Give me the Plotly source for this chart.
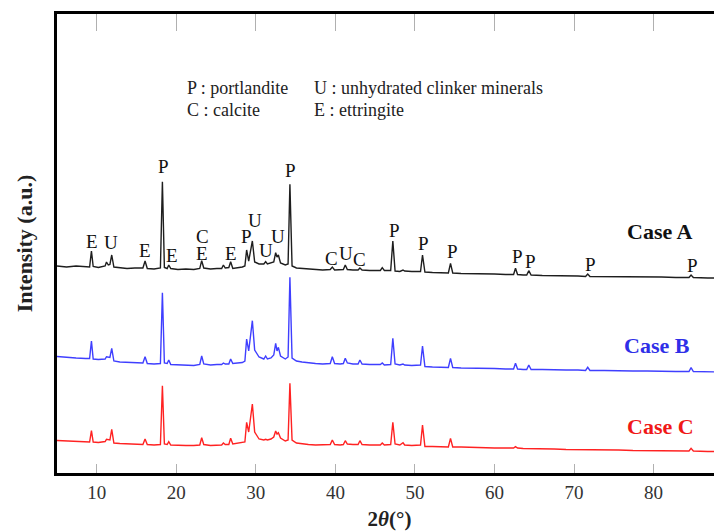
import plotly.graph_objects as go

# ---------------- data (2θ in degrees, intensity in a.u.) ----------------
peak_2theta = [9.33, 11.22, 11.88, 16.07, 18.25, 19.05, 23.19, 25.92, 26.83, 28.84,
               29.56, 31.23, 32.49, 32.83, 34.28, 39.61, 41.24, 43.08, 45.89, 47.22,
               48.5, 50.95, 54.47, 62.64, 64.31, 71.72, 84.71]
peak_a = [222, 211, 218, 212, 291.3, 208, 212.3, 208, 211.3, 223,
          232, 211.3, 220.3, 218, 288.7, 206, 208, 205, 205.3, 232,
          203, 218, 209.7, 204.7, 202.3, 199, 198]
peak_b = [132, 116.3, 124.7, 116.3, 180.3, 113, 117, 110, 114, 134,
          152.3, 117, 129.7, 125.7, 195.7, 116.3, 114.7, 113, 110, 134.7,
          109, 127, 114.7, 109.7, 108, 105.7, 105.3]
peak_c = [42.3, 33.7, 43.7, 34, 87.3, 31.3, 35.3, 30, 34.7, 50.7,
          69, 33.7, 42, 40.3, 89.7, 33, 32.3, 32.3, 30, 50.7,
          30.3, 48, 34.7, 26.3, 24.7, 23.7, 24.7]

base_2theta = [5.0, 6.2, 7.4, 8.6, 9.1, 9.55, 10.2, 10.8, 11.05, 11.45,
               11.65, 12.15, 12.9, 13.8, 14.8, 15.8, 16.35, 17.2, 18.0, 18.5,
               18.85, 19.3, 20.2, 21.2, 22.2, 22.95, 23.45, 24.3, 25.1, 25.7,
               26.15, 26.6, 27.1, 27.7, 28.3, 28.62, 29.1, 29.85, 30.4, 31.0,
               31.45, 31.9, 32.25, 32.66, 33.1, 33.7, 34.05, 34.55, 35.1, 35.8,
               36.6, 37.5, 38.4, 39.35, 39.9, 40.6, 41.0, 41.5, 42.2, 42.85,
               43.35, 44.3, 45.2, 45.65, 46.15, 46.95, 47.5, 48.1, 48.7, 49.6,
               50.7, 51.25, 52.2, 53.2, 54.2, 54.75, 55.8, 57.2, 58.6, 60.0,
               61.4, 62.4, 62.9, 63.6, 64.05, 64.6, 66.0, 67.5, 69.0, 70.5,
               71.45, 72.0, 73.8, 75.6, 77.4, 79.2, 81.0, 82.8, 84.45, 85.0,
               86.8, 88.6]
base_a = [207, 206, 207, 206, 206, 206.5, 205.5, 206.5, 207, 208,
          208.5, 206, 205, 204.5, 205, 205, 204.5, 204, 205, 205.5,
          204.5, 204.5, 203.5, 204, 203.5, 204.5, 205, 204, 204.5, 204.5,
          205, 205.5, 204.5, 205, 206, 207, 212, 211, 209, 209,
          209, 210, 211, 216, 210, 208, 209, 207, 205, 204.5,
          204, 203.5, 203, 203.5, 203, 203, 203.5, 203.5, 203, 203,
          203, 202.5, 202.5, 202.5, 202.5, 202.5, 202, 201.5, 202, 201.5,
          201.5, 201, 200.5, 200.5, 200, 200, 199.5, 199.5, 199, 199,
          198.5, 198.5, 198.5, 198, 198, 198, 197.5, 197.5, 197, 197,
          196.5, 196.5, 196.5, 196, 196, 196, 196, 195.5, 195.5, 195.5,
          195, 195]
base_b = [116.5, 115.5, 115, 114.5, 114.5, 114, 113.5, 113.5, 114, 115.5,
          115.5, 112, 111, 110.5, 110, 110, 109.5, 109, 109.5, 110,
          109.5, 108.5, 108, 108, 107.5, 108.5, 109, 108, 108.5, 108.5,
          109, 109, 109.5, 110, 110.5, 112, 122, 123, 116, 114,
          114, 115, 118, 122, 117, 114, 116, 115, 112, 111,
          110, 109.5, 109, 109.5, 109.5, 109, 109.5, 110, 109, 109,
          109, 108.5, 108.5, 108.5, 108, 108.5, 109, 108, 108, 107.5,
          108, 106.5, 106, 105.5, 105.5, 105.5, 105, 105, 104.5, 104.5,
          104, 104, 104, 103.5, 103.5, 103.5, 103.5, 103, 103, 103,
          102.5, 102.5, 102.5, 102, 102, 102, 101.5, 101.5, 101.5, 101.5,
          101, 101]
base_c = [32.5, 32, 31.5, 31, 31, 31, 30.5, 31, 31.5, 33,
          33, 30, 29.5, 29, 28.5, 28.5, 28.5, 28, 28.5, 29,
          28.5, 28, 27.5, 27.5, 27.5, 28, 28.5, 27.5, 28, 28,
          28.5, 28.5, 29, 29.5, 30, 31, 41, 41, 34, 33,
          33, 34, 36, 39, 35, 32, 33, 33, 30, 29,
          28.5, 28, 28, 28.5, 28.5, 28, 28.5, 29, 28.5, 28.5,
          28.5, 28, 28, 28, 28, 28.5, 29, 28, 28, 27.5,
          28, 26.5, 26.5, 26, 26, 26, 26, 25.5, 25.5, 25,
          25, 25, 25, 24.5, 24.5, 24.5, 24, 24, 23.5, 23.5,
          23.5, 23.5, 23, 23, 22.5, 22.5, 22.5, 22, 22, 22,
          21.5, 21.5]

case_names = ["Case A", "Case B", "Case C"]

# phase labels above Case A peaks
phase_labels = ["E", "U", "E", "P", "E", "C", "E", "E", "P", "U",
                "U", "U", "P", "C", "U", "C", "P", "P", "P", "P",
                "P", "P", "P"]
phase_label_2theta = [9.37, 11.76, 16.07, 18.38, 19.51, 23.28, 23.28, 26.83, 28.81, 29.85,
                      31.23, 32.83, 34.37, 39.52, 41.28, 43.08, 47.47, 51.12, 54.76, 62.85,
                      64.52, 72.06, 84.91]
phase_label_int = [231.3, 230.3, 223, 306.3, 218, 237.0, 219.7, 219.7, 236.3, 253,
                   222.3, 237, 302.3, 214.7, 219.7, 213.7, 243, 229.7, 221.3, 216.3,
                   211.3, 209, 208]

key_lines = ["P : portlandite", "C : calcite", "U : unhydrated clinker minerals", "E : ettringite"]

x_ticks = [10, 20, 30, 40, 50, 60, 70, 80]

# ---------------- build ----------------
assert len(peak_2theta) == len(peak_a) == len(peak_b) == len(peak_c)
assert len(base_2theta) == len(base_a) == len(base_b) == len(base_c), (
    len(base_2theta), len(base_a), len(base_b), len(base_c))


def merged(base_y, peak_y):
    pts = list(zip(base_2theta, base_y)) + list(zip(peak_2theta, peak_y))
    pts.sort(key=lambda p: p[0])
    return [p[0] for p in pts], [p[1] for p in pts]


SERIF = "Liberation Serif, Times New Roman, serif"
colors = ["#1e1e1e", "#3f3fff", "#ff2222"]
label_colors = ["#111111", "#2f2fe8", "#f01818"]

fig = go.Figure()
for name, by, py, col in zip(case_names, [base_a, base_b, base_c],
                             [peak_a, peak_b, peak_c], colors):
    xs, ys = merged(by, py)
    fig.add_trace(go.Scatter(x=xs, y=ys, mode="lines", name=name,
                             line=dict(color=col, width=1.4), showlegend=False,
                             hoverinfo="skip"))

# invisible trace to carry the top tick axis
fig.add_trace(go.Scatter(x=[x_ticks[0]], y=[0], xaxis="x2", mode="markers",
                         marker=dict(opacity=0), showlegend=False, hoverinfo="skip"))

annotations = []
for t, xv, yv in zip(phase_labels, phase_label_2theta, phase_label_int):
    annotations.append(dict(x=xv, y=yv, xref="x", yref="y", text=t, showarrow=False,
                            font=dict(family=SERIF, size=19, color="#111111"),
                            xanchor="center", yanchor="middle"))

case_label_pos = [(80.85, 241.3), (80.44, 128.0), (80.85, 46.3)]
for name, (xv, yv), col in zip(case_names, case_label_pos, label_colors):
    annotations.append(dict(x=xv, y=yv, xref="x", yref="y", text="<b>%s</b>" % name,
                            showarrow=False, font=dict(family=SERIF, size=22, color=col),
                            xanchor="center", yanchor="middle"))

key_pos = [(21.09, 384.7), (21.09, 363.0), (37.1, 384.7), (37.1, 363.0)]
for t, (xv, yv) in zip(key_lines, key_pos):
    annotations.append(dict(x=xv, y=yv, xref="x", yref="y", text=t, showarrow=False,
                            font=dict(family=SERIF, size=18, color="#222222"),
                            xanchor="left", yanchor="middle"))

x_range = [5.0, 88.6]
# the page body adds an 8px offset, so the figure is sized to fit the window
fig.update_layout(
    width=714, height=523,
    margin=dict(l=49, r=0, t=6, b=58),
    plot_bgcolor="white", paper_bgcolor="white",
    font=dict(family=SERIF, color="#222222"),
    xaxis=dict(range=x_range, tickvals=x_ticks, ticks="inside", ticklen=9,
               tickwidth=1, tickcolor="#b0b0b0", showline=True, linecolor="black",
               linewidth=2.5, mirror=True, showgrid=False, zeroline=False,
               tickfont=dict(family=SERIF, size=19, color="#333333"),
               title=dict(text="<b>2<i>θ</i>(°)</b>", font=dict(family=SERIF, size=21,
                                                                 color="#222222"),
                          standoff=12)),
    xaxis2=dict(range=x_range, overlaying="x", side="top", tickvals=x_ticks,
                ticks="inside", ticklen=17, tickwidth=1, tickcolor="#b0b0b0",
                showticklabels=False, showline=False, showgrid=False, zeroline=False),
    yaxis=dict(range=[0, 459], showline=True, linecolor="black", linewidth=2.5,
               showticklabels=False, ticks="", showgrid=False, zeroline=False,
               title=dict(text="<b>Intensity (a.u.)</b>",
                          font=dict(family=SERIF, size=22, color="#222222"),
                          standoff=16)),
    annotations=annotations,
)

fig.write_html("out.html")
